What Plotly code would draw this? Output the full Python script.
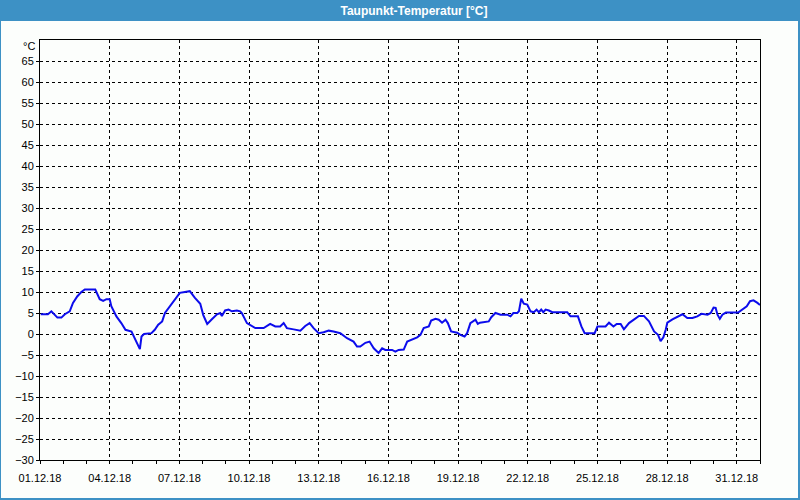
import pandas as pd
import plotly.graph_objects as go

# ---- data ----
start_date = "2018-12-01"
day_offsets = [
    0.03, 0.34, 0.49, 0.63, 0.75, 0.92, 1.07, 1.28, 1.42, 1.61, 1.78, 1.93, 2.38, 2.57, 2.72,
    2.86, 3.00, 3.07, 3.29, 3.50, 3.68, 3.94, 4.08, 4.19, 4.30, 4.37, 4.48, 4.80, 4.94, 5.09,
    5.26, 5.38, 5.59, 5.81, 6.02, 6.24, 6.45, 6.67, 6.90, 7.03, 7.20, 7.40, 7.62, 7.76, 7.83,
    7.97, 8.12, 8.26, 8.48, 8.62, 8.69, 8.91, 9.27, 9.63, 9.91, 10.13, 10.34, 10.49, 10.63,
    10.92, 11.21, 11.42, 11.61, 11.78, 12.00, 12.21, 12.43, 12.64, 12.93, 13.22, 13.50, 13.65,
    13.79, 14.01, 14.19, 14.37, 14.58, 14.73, 14.87, 15.16, 15.30, 15.44, 15.66, 15.81, 16.02,
    16.24, 16.38, 16.52, 16.74, 16.84, 17.03, 17.17, 17.31, 17.46, 17.56, 17.70, 17.96, 18.10,
    18.28, 18.39, 18.53, 18.75, 18.85, 18.94, 19.32, 19.43, 19.61, 19.83, 20.12, 20.26, 20.38,
    20.55, 20.62, 20.72, 20.83, 20.98, 21.12, 21.26, 21.38, 21.48, 21.58, 21.67, 21.77, 21.91,
    22.06, 22.70, 22.84, 23.16, 23.31, 23.45, 23.88, 24.00, 24.35, 24.50, 24.69, 24.83, 25.00,
    25.14, 25.36, 25.57, 25.79, 26.00, 26.22, 26.44, 26.61, 26.72, 26.84, 26.94, 27.01, 27.23,
    27.44, 27.66, 27.87, 28.09, 28.30, 28.48, 28.74, 28.88, 29.00, 29.09, 29.17, 29.27, 29.38,
    29.53, 30.06, 30.25, 30.43, 30.57, 30.72, 30.89, 31.00,
]
dew_point = [
    4.7, 4.7, 5.4, 4.7, 3.9, 3.9, 4.7, 5.4, 7.4, 9.0, 10.0, 10.6, 10.6, 8.3, 7.9,
    8.3, 8.3, 6.6, 4.2, 2.6, 1.0, 0.6, -1.0, -2.6, -3.6, -0.6, 0.0, 0.2, 1.0, 2.2,
    3.0, 5.0, 6.6, 8.0, 9.8, 10.0, 10.2, 8.6, 7.2, 4.5, 2.4, 3.5, 4.7, 5.0, 4.3,
    5.6, 5.8, 5.4, 5.6, 5.4, 5.0, 2.6, 1.4, 1.4, 2.4, 1.8, 1.8, 2.6, 1.4,
    1.1, 0.8, 1.9, 2.6, 1.4, 0.2, 0.4, 0.8, 0.6, 0.2, -1.0, -1.8, -3.0,
    -3.0, -2.1, -1.8, -3.4, -4.5, -3.4, -3.8, -3.8, -4.2, -3.8, -3.7, -1.8, -1.3,
    -0.8, -0.2, 1.4, 1.8, 3.2, 3.6, 3.4, 2.7, 3.4, 2.6, 0.6, 0.3, -0.2,
    -0.6, 0.2, 2.6, 3.4, 2.4, 2.7, 3.0, 4.0, 5.0, 4.6, 4.6, 4.2, 5.0,
    5.0, 5.4, 8.4, 7.2, 7.0, 5.4, 5.2, 5.8, 5.2, 5.8, 5.2, 5.8, 5.6,
    5.2, 5.2, 4.2, 4.2, 1.8, 0.2, 0.2, 1.8, 1.8, 2.7, 1.8, 2.4, 2.4,
    1.1, 2.6, 3.5, 4.3, 4.3, 3.0, 0.6, -0.2, -1.7, -0.8, 1.0, 2.7, 3.5,
    4.1, 4.7, 3.8, 3.8, 4.2, 4.8, 4.6, 5.0, 6.3, 6.2, 4.6, 3.6, 4.6,
    5.1, 5.1, 5.8, 6.6, 7.8, 8.0, 7.4, 6.9,
]
y_tick_values = list(range(-30, 70, 5))
y_unit_label = "°C"
x_range = ["2018-12-01", "2019-01-01"]
y_range = [-30, 70]
title_text = "Taupunkt-Temperatur [°C]"

times = pd.Timestamp(start_date) + pd.to_timedelta(day_offsets, unit="D")

BLUE = "#3d91c5"
BG = "#fcfefc"
LINE = "#0c0cec"
FONT = "Liberation Sans"

fig = go.Figure()
fig.add_trace(go.Scatter(
    x=times, y=dew_point, mode="lines",
    line=dict(color=LINE, width=2),
    showlegend=False, hoverinfo="skip",
))

W, H = 800, 500
L, R, T, B = 40, 40, 40, 40
pw, ph = W - L - R, H - T - B


def px_x(px):
    return (px - L) / pw


def px_y(py):
    return (H - B - py) / ph


fig.update_layout(
    width=W, height=H,
    margin=dict(l=L, r=R, t=T, b=B, pad=0),
    paper_bgcolor=BLUE,
    plot_bgcolor=BG,
    title=dict(
        text=f"<b>{title_text}</b>",
        font=dict(family=FONT, size=12, color="white"),
        x=414 / W, xanchor="center", xref="container",
        y=1 - 10.5 / H, yanchor="middle", yref="container",
    ),
    shapes=[
        dict(type="rect", xref="paper", yref="paper", layer="below",
             x0=px_x(1), x1=px_x(798), y0=px_y(498), y1=px_y(21),
             fillcolor=BG, line=dict(width=0)),
    ],
    annotations=[
        dict(text=y_unit_label, xref="paper", yref="paper",
             x=px_x(37), y=px_y(46), xanchor="right", yanchor="middle",
             showarrow=False, font=dict(family=FONT, size=11, color="black")),
    ],
    xaxis=dict(
        type="date", range=x_range,
        tick0=start_date, dtick=3 * 86400000,
        tickformat="%d.%m.%y",
        showgrid=True, gridcolor="black", gridwidth=1, griddash="3px,3px",
        showline=True, linecolor="black", linewidth=1, mirror=True,
        ticks="outside", ticklen=3, tickcolor="black",
        ticklabelstandoff=5,
        minor=dict(dtick=86400000, tick0=start_date, ticks="outside", ticklen=3,
                   tickcolor="black", showgrid=False),
        tickfont=dict(family=FONT, size=11, color="black"),
        zeroline=False, fixedrange=True,
    ),
    yaxis=dict(
        range=y_range, tickvals=y_tick_values,
        showgrid=True, gridcolor="black", gridwidth=1, griddash="3px,3px",
        showline=True, linecolor="black", linewidth=1, mirror=True,
        ticks="outside", ticklen=3, tickcolor="black",
        tickfont=dict(family=FONT, size=11, color="black"),
        zeroline=False, fixedrange=True,
    ),
)

fig.write_html("out.html")
